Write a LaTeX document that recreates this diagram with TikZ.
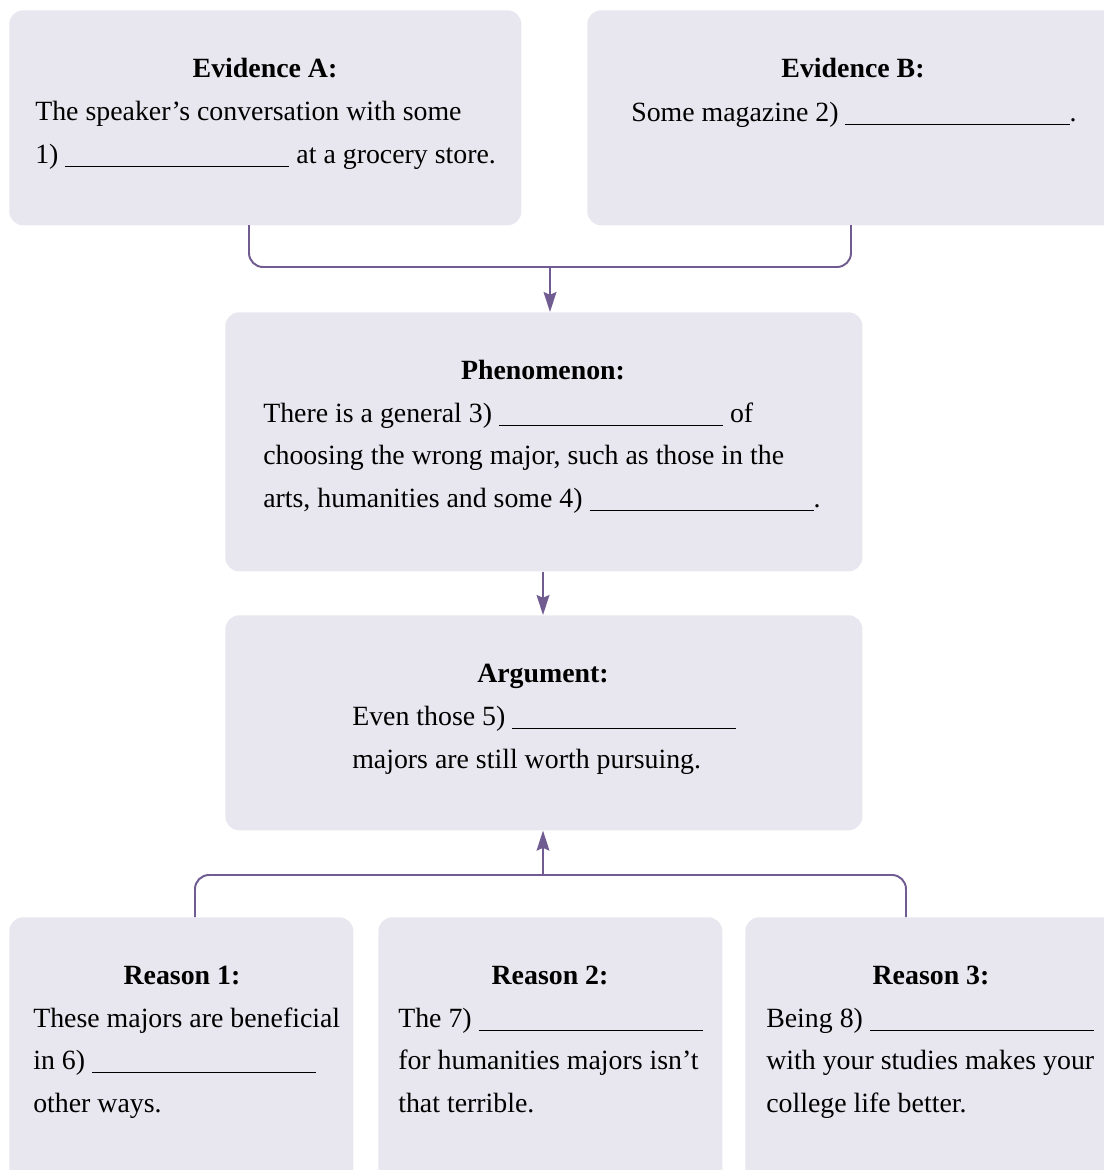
\documentclass[tikz,border=0pt]{standalone}
\usepackage{fontspec}
\setmainfont{Liberation Serif}
\usetikzlibrary{arrows.meta}

\definecolor{boxgray}{HTML}{E8E6EE}
\definecolor{linkpurple}{HTML}{715C92}
\newcommand{\blank}{\rule[-2.5pt]{5.6cm}{0.7pt}}

\tikzset{
  panel/.style={fill=boxgray, rounded corners=0.35cm, anchor=north west, inner sep=0pt},
  head/.style={font=\fontsize{19.8}{29.9}\selectfont\bfseries, anchor=base, inner sep=0pt},
  body/.style={font=\fontsize{19.8}{29.9}\selectfont, anchor=base west, align=left, inner sep=0pt},
  link/.style={draw=linkpurple, line width=1.4pt, rounded corners=0.35cm},
  flow/.style={link, -{Stealth[length=0.5cm, width=0.32cm, inset=0.07cm]}}
}

\begin{document}
\begin{tikzpicture}[x=0.025cm, y=-0.025cm]
    \useasboundingbox (0,0) rectangle (1104,1170);
    \clip (0,0) rectangle (1104,1170);

    % boxes
    \node[panel, minimum width=12.8cm, minimum height=5.375cm] (evA) at (9,10) {};
    \node[panel, minimum width=13.3cm, minimum height=5.375cm] (evB) at (587,10) {};
    \node[panel, minimum width=15.925cm, minimum height=6.475cm] (phen) at (225,312) {};
    \node[panel, minimum width=15.925cm, minimum height=5.375cm] (arg) at (225,615) {};
    \node[panel, minimum width=8.6cm, minimum height=7cm] (rsnA) at (9,917) {};
    \node[panel, minimum width=8.6cm, minimum height=7cm] (rsnB) at (378,917) {};
    \node[panel, minimum width=9.3cm, minimum height=7cm] (rsnC) at (745,917) {};

    % texts (body nodes sit on the baseline of their last line)
    \node[head] (evAt) at (265,77) {Evidence A:};
    \node[body] (evAb) at (35,163) {The speaker’s conversation with some\\1) \blank{} at a grocery store.};
    \node[head] (evBt) at (853,77) {Evidence B:};
    \node[body] (evBb) at (631,121) {Some magazine 2) \blank.};
    \node[head] (phent) at (543,379) {Phenomenon:};
    \node[body] (phenb) at (263,507) {There is a general 3) \blank{} of\\choosing the wrong major, such as those in the\\arts, humanities and some 4) \blank.};
    \node[head] (argt) at (543,682) {Argument:};
    \node[body] (argb) at (352,768) {Even those 5) \blank\\majors are still worth pursuing.};
    \node[head] (rsnAt) at (182,984) {Reason 1:};
    \node[body] (rsnAb) at (33,1112) {These majors are beneficial\\in 6) \blank\\other ways.};
    \node[head] (rsnBt) at (550,984) {Reason 2:};
    \node[body] (rsnBb) at (398,1112) {The 7) \blank\\for humanities majors isn’t\\that terrible.};
    \node[head] (rsnCt) at (931,984) {Reason 3:};
    \node[body] (rsnCb) at (766,1112) {Being 8) \blank\\with your studies makes your\\college life better.};

    % connectors
    \coordinate (ja) at (249,225);
    \coordinate (jb) at (851,225);
    \coordinate (jm) at (550,267);
    \draw[link] (ja) -- ++(0,42) -| (jb);
    \draw[flow] (jm) -- (jm |- phen.north);
    \draw[flow] (phen.south -| 543,0) -- (arg.north -| 543,0);

    \coordinate (ka) at (195,917);
    \coordinate (kb) at (906,917);
    \coordinate (km) at (543,875);
    \draw[link] (ka) -- ++(0,-42) -| (kb);
    \draw[flow] (km) -- (km |- arg.south);
\end{tikzpicture}
\end{document}
